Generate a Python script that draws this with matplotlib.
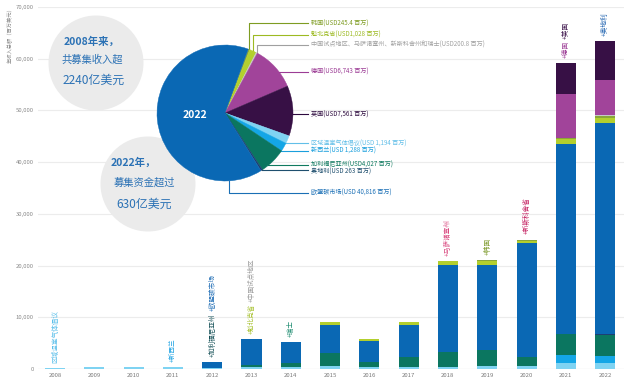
import numpy as np
import matplotlib
matplotlib.use("Agg")
import matplotlib.pyplot as plt
from matplotlib.patches import Circle

plt.rcParams["font.family"] = ["Noto Sans CJK SC", "DejaVu Sans"]

# ---------------- data ----------------
years = list(range(2008, 2023))
rggi = [200, 420, 380, 300, 250, 300, 450, 580, 450, 400, 400, 640, 640, 1100, 1194]
nz = [0, 0, 0, 0, 0, 0, 0, 0, 0, 0, 0, 0, 0, 1610, 1288]
california = [0, 0, 0, 0, 0, 500, 650, 2460, 850, 1980, 2830, 3040, 1740, 4000, 4027]
austria = [0, 0, 0, 0, 0, 0, 0, 0, 0, 0, 0, 0, 0, 0, 263]
eu = [0, 0, 0, 0, 1100, 5000, 4050, 5470, 4120, 6190, 16890, 16440, 21930, 36750, 40816]
quebec = [0, 0, 0, 0, 0, 0, 0, 640, 380, 460, 710, 700, 500, 1000, 1028]
korea = [0, 0, 0, 0, 0, 0, 0, 0, 0, 0, 0, 260, 200, 270, 245.4]
other = [0, 0, 0, 0, 0, 0, 0, 0, 0, 0, 0, 0, 0, 0, 200.8]
germany = [0, 0, 0, 0, 0, 0, 0, 0, 0, 0, 0, 0, 0, 8450, 6743]
uk = [0, 0, 0, 0, 0, 0, 0, 0, 0, 0, 0, 0, 0, 5910, 7561]

C_RGGI, C_NZ, C_CAL, C_AUT = "#7FD3F2", "#14A6E6", "#0B7660", "#1D3F73"
C_EU, C_QC, C_KR, C_OTH = "#0A68B4", "#B3CF2E", "#8AA63A", "#C8C8C8"
C_DE, C_UK = "#A1449A", "#371045"

series = [(rggi, C_RGGI), (nz, C_NZ), (california, C_CAL), (austria, C_AUT),
          (eu, C_EU), (quebec, C_QC), (korea, C_KR), (other, C_OTH),
          (germany, C_DE), (uk, C_UK)]

# pie (2022), clockwise from top-right
pie_names = ["韩国", "魁北克省", "中国试点地区、马萨诸塞州、新斯科舍州和瑞士", "德国", "英国",
             "区域温室气体倡议", "新西兰", "加利福尼亚州", "奥地利", "欧盟碳市场"]
pie_vals = [245.4, 1028, 200.8, 6743, 7561, 1194, 1288, 4027, 263, 40816]
pie_txt = ["USD245.4 百万", "USD1,028 百万", "USD200.8 百万", "USD6,743 百万", "USD7,561 百万",
           "USD 1,194 百万", "USD 1,288 百万", "USD4,027 百万", "USD 263 百万", "USD 40,816 百万"]
pie_cols = [C_KR, C_QC, C_OTH, C_DE, C_UK, C_RGGI, C_NZ, C_CAL, C_AUT, C_EU]
lab_cols = ["#7E9C22", "#9DBA22", "#A0A0A0", "#9C3C95", "#2D0A3E",
            "#62BFE8", "#1A9FDC", "#0F7A5F", "#1F4F6E", "#1A6FB5"]
lab_y = [23.3, 35, 45, 71.7, 114.3, 143.3, 151, 165, 171.5, 192.5]

notes = {2008: [("区域温室气体倡议", "#5BBFEA")],
         2011: [("+新西兰", "#1BA1E2")],
         2012: [("+加利福尼亚州", "#124E55"), ("+欧盟碳市场", "#1F6DB5")],
         2013: [("+魁北克省", "#A8C232"), ("+中国试点地区", "#9A9A9A")],
         2014: [("+瑞士", "#1A8A6E")],
         2018: [("+马萨诸塞州", "#D9477E")],
         2019: [("+韩国", "#7D9A2B")],
         2020: [("+新斯科舍省", "#C2185B")],
         2021: [("+德国", "#9C3C95"), ("+英国", "#3A1048")],
         2022: [("+奥地利", "#1F63B0")]}

W, H = 624, 382
fig = plt.figure(figsize=(W / 100, H / 100), dpi=100)

# ---------------- bars ----------------
ax = fig.add_axes([38 / W, 13 / H, 586 / W, 362 / H])
x = np.arange(len(years))
bottom = np.zeros(len(years))
for vals, col in series:
    v = np.array(vals, dtype=float)
    ax.bar(x, v, 0.51, bottom=bottom, color=col, lw=0, zorder=2)
    bottom += v
ax.set_ylim(0, 70000)
ax.set_xlim(-0.433, 14.48)
ax.set_yticks(range(0, 70001, 10000))
ax.set_yticklabels([f"{t:,}" for t in range(0, 70001, 10000)], fontsize=4.3, color="#8a8a8a")
ax.set_xticks(x)
ax.set_xticklabels([str(y) for y in years], fontsize=4.3, color="#7a7a7a")
ax.tick_params(length=0, pad=3)
ax.grid(axis="y", color="#ececec", lw=0.8, zorder=0)
for s in ax.spines.values():
    s.set_visible(False)
ax.axhline(0, color="#d8d8d8", lw=0.8, zorder=1)

for yr, parts in notes.items():
    i = years.index(yr)
    t = ax.text(i, bottom[i] + 1000, parts[0][0], rotation=90, ha="center", va="bottom",
                fontsize=4.8, color=parts[0][1], zorder=3)
    for s, c in parts[1:]:
        t = ax.annotate(s, xy=(0.5, 1), xycoords=t, xytext=(0, 1.5), textcoords="offset points",
                        rotation=90, ha="center", va="bottom", fontsize=4.8, color=c, zorder=3)

fig.text(10 / W, 1 - 34 / H, "年收入总额（百万美元）", rotation=90, ha="center", va="center",
         fontsize=3.8, color="#8a8a8a")

# ---------------- overlay: circles, texts, leaders ----------------
ov = fig.add_axes([0, 0, 1, 1], zorder=2)
ov.set_xlim(0, W); ov.set_ylim(H, 0); ov.axis("off")
ov.add_patch(Circle((96, 63), 47.5, fc="#ebebeb", ec="none"))
ov.add_patch(Circle((148, 184), 47.5, fc="#ebebeb", ec="none"))
TXT = "#2C72B5"
ov.text(92, 42, "2008年来，", ha="center", va="center", fontsize=7.5, color=TXT, weight="bold")
ov.text(92, 60, "共募集收入超", ha="center", va="center", fontsize=7.4, color=TXT)
ov.text(94, 80, "2240亿美元", ha="center", va="center", fontsize=8.6, color=TXT)
ov.text(133, 163, "2022年，", ha="center", va="center", fontsize=7.5, color=TXT, weight="bold")
ov.text(144, 183, "募集资金超过", ha="center", va="center", fontsize=7.4, color=TXT)
ov.text(144, 204, "630亿美元", ha="center", va="center", fontsize=8.6, color=TXT)

# pie
CX, CY, R = 225, 113, 68
pax = fig.add_axes([(CX - R) / W, (H - CY - R) / H, 2 * R / W, 2 * R / H], zorder=3)
START = 70
wedges, _ = pax.pie(pie_vals, colors=pie_cols, startangle=START, counterclock=False, radius=1,
                    wedgeprops=dict(lw=0.3))
for w in wedges:
    w.set_edgecolor(w.get_facecolor())
pax.set_xlim(-1, 1); pax.set_ylim(-1, 1)
pax.text(-0.44, -0.03, "2022", color="white", fontsize=7.5, weight="bold", ha="center", va="center")

# leader lines + labels
frac = np.array(pie_vals) / sum(pie_vals)
ends = START - np.cumsum(frac) * 360
mids = ends + frac * 180
XE = 308
for k, name in enumerate(pie_names):
    ly = lab_y[k]
    col = lab_cols[k]
    th = np.deg2rad(mids[k])
    ex, ey = CX + R * np.cos(th), CY - R * np.sin(th)
    if k < 3:
        ov.plot([ex, ex, XE], [ey, ly, ly], color=col, lw=0.8)
    elif k == len(pie_names) - 1:
        ex = CX + 4
        ey = CY + np.sqrt(R ** 2 - 16)
        ov.plot([ex, ex, XE], [ey, ly, ly], color=col, lw=0.8)
    elif k == len(pie_names) - 2:
        ov.plot([ex, XE], [ey, ey], color=col, lw=0.8)
    else:
        dy = ly - CY
        bx = CX + np.sqrt(max(R ** 2 - dy ** 2, 0)) - 1
        ov.plot([bx, XE], [ly, ly], color=col, lw=0.8)
    ov.text(XE + 3, ly, f"{name}({pie_txt[k]})", ha="left", va="center", fontsize=4.4, color=col)

fig.savefig("out.png", dpi=100)
